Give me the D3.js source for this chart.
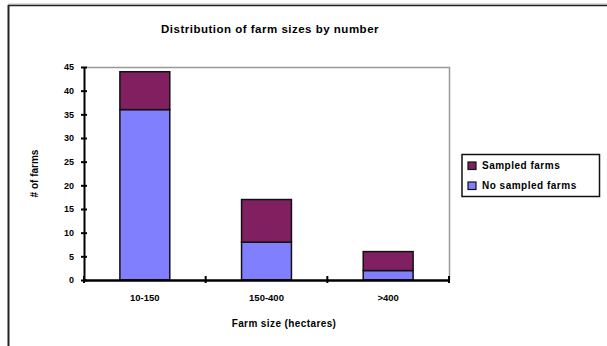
<!DOCTYPE html>
<html>
<head>
<meta charset="utf-8">
<script src="https://cdn.jsdelivr.net/npm/d3@7"></script>
<style>
  html, body { margin: 0; padding: 0; background: #fff; }
  svg { display: block; }
  text { font-family: "Liberation Sans", Arial, sans-serif; font-weight: bold; fill: #000; }
</style>
</head>
<body>
<svg id="chart" width="607" height="346"></svg>
<script>
// Farm size classes and counts per class
const categories = ["10-150", "150-400", ">400"];
const notSampled = [36, 8, 2];
const sampled = [8, 9, 4];
const seriesNames = ["No sampled farms", "Sampled farms"];
const yTicks = [0, 5, 10, 15, 20, 25, 30, 35, 40, 45];

const colors = { "No sampled farms": "#8080ff", "Sampled farms": "#802060" };

const svg = d3.select("#chart");

// Outer chart frame
svg.append("line").attr("x1", 8).attr("x2", 607).attr("y1", 4).attr("y2", 4)
  .attr("stroke", "#bbb").attr("stroke-width", 1);
svg.append("line").attr("x1", 8).attr("x2", 607).attr("y1", 5.5).attr("y2", 5.5)
  .attr("stroke", "#222").attr("stroke-width", 1.5);
svg.append("line").attr("x1", 8.5).attr("x2", 8.5).attr("y1", 5).attr("y2", 346)
  .attr("stroke", "#222").attr("stroke-width", 2);

const plot = { left: 84, right: 449, top: 67, bottom: 280 };

const x = d3.scaleBand().domain(categories).range([plot.left, plot.right])
  .paddingInner(0.59).paddingOuter(0.295);
const y = d3.scaleLinear().domain([0, 45]).range([plot.bottom, plot.top]);

// Plot area border (top and right in grey)
svg.append("path")
  .attr("d", `M${plot.left},${plot.top + 0.5}H${plot.right + 0.5}V${plot.bottom}`)
  .attr("fill", "none").attr("stroke", "#999").attr("stroke-width", 1.5);

// Stacked bars
const rows = categories.map((c, i) => ({
  cat: c, "No sampled farms": notSampled[i], "Sampled farms": sampled[i]
}));
const stacked = d3.stack().keys(seriesNames)(rows);

svg.append("g").selectAll("g").data(stacked).join("g")
  .attr("fill", d => colors[d.key])
  .selectAll("rect").data(d => d).join("rect")
  .attr("x", d => x(d.data.cat))
  .attr("width", x.bandwidth())
  .attr("y", d => y(d[1]))
  .attr("height", d => y(d[0]) - y(d[1]))
  .attr("stroke", "#111").attr("stroke-width", 1.5);

// Y axis
const yAxis = svg.append("g").attr("transform", `translate(${plot.left},0)`)
  .call(d3.axisLeft(y).tickValues(yTicks).tickSizeInner(3).tickSizeOuter(0).tickPadding(7));
yAxis.select(".domain").attr("stroke", "#000").attr("stroke-width", 2);
yAxis.selectAll(".tick line").attr("x1", -3).attr("x2", 3).attr("stroke", "#000").attr("stroke-width", 2);
yAxis.selectAll("text").attr("font-size", 9).attr("font-family", "Liberation Sans, Arial, sans-serif")
  .attr("font-weight", "bold");

// X axis with category boundary ticks
const xAxis = svg.append("g").attr("transform", `translate(0,${plot.bottom})`)
  .call(d3.axisBottom(x).tickSize(0).tickPadding(14));
xAxis.select(".domain").attr("stroke", "#000").attr("stroke-width", 2.5);
xAxis.selectAll("text").attr("font-size", 9.5).attr("font-family", "Liberation Sans, Arial, sans-serif")
  .attr("font-weight", "bold");
const step = x.step();
const boundaries = categories.map((_, i) => plot.left + i * step).concat([plot.right]);
xAxis.selectAll(".bound").data(boundaries).join("line").attr("class", "bound")
  .attr("x1", d => d).attr("x2", d => d).attr("y1", -4).attr("y2", 3)
  .attr("stroke", "#000").attr("stroke-width", 2);

// Titles
svg.append("text").attr("x", 270).attr("y", 33).attr("text-anchor", "middle")
  .attr("font-size", 11.5).attr("letter-spacing", 0.5).text("Distribution of farm sizes by number");
svg.append("text").attr("x", 284).attr("y", 327).attr("text-anchor", "middle")
  .attr("font-size", 10).attr("letter-spacing", 0.4).text("Farm size (hectares)");
svg.append("text").attr("transform", `translate(38,${(plot.top + plot.bottom) / 2}) rotate(-90)`)
  .attr("text-anchor", "middle").attr("font-size", 10).text("# of farms");

// Legend
const legend = svg.append("g");
legend.append("rect").attr("x", 462).attr("y", 154.5).attr("width", 137.5).attr("height", 42)
  .attr("fill", "#fff").attr("stroke", "#111").attr("stroke-width", 1.5);
const legendItems = ["Sampled farms", "No sampled farms"];
legendItems.forEach((name, i) => {
  const cy = 165.5 + i * 20;
  legend.append("rect").attr("x", 468).attr("y", cy - 3.5).attr("width", 8).attr("height", 7.5)
    .attr("fill", colors[name]).attr("stroke", "#111").attr("stroke-width", 1.2);
  legend.append("text").attr("x", 482).attr("y", cy).attr("dy", "0.35em")
    .attr("font-size", 10).attr("letter-spacing", 0.5).text(name);
});
</script>
</body>
</html>
